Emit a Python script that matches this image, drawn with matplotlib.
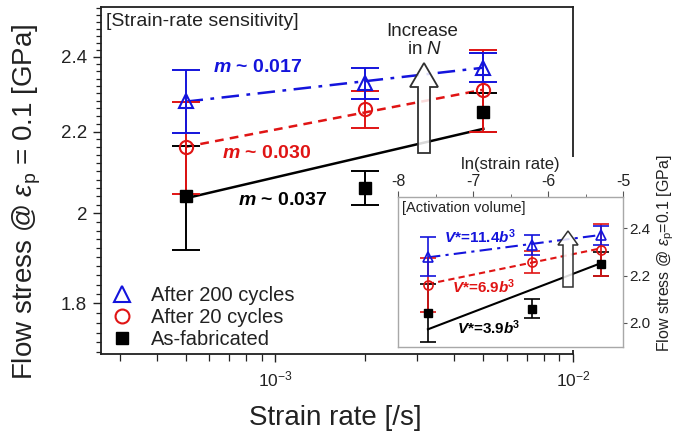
import numpy as np
import matplotlib
matplotlib.use('Agg')
import matplotlib.pyplot as plt
from matplotlib.ticker import FixedLocator, FixedFormatter, NullFormatter, LogLocator, LogFormatterMathtext
from matplotlib.patches import FancyArrow, Rectangle
from matplotlib.lines import Line2D

# ---------------- data ----------------
strain_rate = [5e-4, 2e-3, 5e-3]
stress_asfab = [2.040, 2.060, 2.250]
err_asfab = [0.123, 0.040, 0.050]
stress_n20 = [2.161, 2.258, 2.310]
err_n20 = [0.115, 0.048, 0.110]
stress_n200 = [2.280, 2.328, 2.370]
err_n200 = [0.084, 0.042, 0.040]

fit_rate = [5e-4, 5e-3]
fit_asfab = [2.035, 2.207]
fit_n20 = [2.161, 2.310]
fit_n200 = [2.278, 2.370]

inset_fit_asfab = [1.972, 2.252]
inset_fit_n20 = [2.164, 2.315]
inset_fit_n200 = [2.277, 2.372]

series_names = ['After 200 cycles', 'After 20 cycles', 'As-fabricated']
m_values = ['0.017', '0.030', '0.037']
v_values = ['11.4', '6.9', '3.9']

main_yticks = [1.8, 2.0, 2.2, 2.4]
main_yticklabels = ['1.8', '2', '2.2', '2.4']
inset_xticks = [-8, -7, -6, -5]
inset_yticks = [2.0, 2.2, 2.4]

# ---------------- style ----------------
plt.rcParams['font.family'] = ['Liberation Sans', 'DejaVu Sans']
plt.rcParams['mathtext.fontset'] = 'custom'
plt.rcParams['mathtext.rm'] = 'Liberation Sans'
plt.rcParams['mathtext.it'] = 'Liberation Sans:italic'
plt.rcParams['mathtext.bf'] = 'Liberation Sans:bold'
plt.rcParams['mathtext.bfit'] = 'Liberation Sans:italic:bold'
plt.rcParams['axes.unicode_minus'] = False

BLUE = '#1414dc'
RED = '#e01414'
BLACK = '#000000'
TXT = '#222222'

W, H = 686, 437
fig = plt.figure(figsize=(W / 100, H / 100), dpi=100)

def fx(px):
    return px / W

def fy(py):
    return 1 - py / H

# main axes
L, T, R, B = 101, 7, 573, 354
ax = fig.add_axes([fx(L), fy(B), (R - L) / W, (B - T) / H])
ax.set_xscale('log')
ax.set_yscale('log')
ax.set_xlim(2.6e-4, 1e-2)
ax.set_ylim(1.697, 2.544)

ax.yaxis.set_major_locator(FixedLocator(main_yticks))
ax.yaxis.set_major_formatter(FixedFormatter(main_yticklabels))
ax.yaxis.set_minor_locator(FixedLocator(np.arange(1.70, 2.545, 0.02)))
ax.yaxis.set_minor_formatter(NullFormatter())
ax.xaxis.set_major_locator(LogLocator(base=10))
ax.xaxis.set_major_formatter(LogFormatterMathtext())
ax.xaxis.set_minor_locator(LogLocator(base=10, subs=np.arange(2, 10)))
ax.xaxis.set_minor_formatter(NullFormatter())
ax.tick_params(axis='both', which='both', direction='out', top=False, right=False, colors=TXT)
ax.tick_params(axis='y', which='major', length=6, width=1.0, labelsize=13.5, pad=4)
ax.tick_params(axis='y', which='minor', length=3.5, width=0.9)
ax.tick_params(axis='x', which='major', length=6, width=1.0, labelsize=12.5, pad=5)
ax.tick_params(axis='x', which='minor', length=5, width=0.9)
for s in ax.spines.values():
    s.set_linewidth(1.3)
    s.set_color('#202020')

# error bars
eb_kw = dict(fmt='none', capsize=10, elinewidth=1.4, capthick=1.4)
ax.errorbar(strain_rate, stress_asfab, yerr=err_asfab, ecolor=BLACK, zorder=3, **eb_kw)
ax.errorbar(strain_rate, stress_n20, yerr=err_n20, ecolor=RED, zorder=3.1, **eb_kw)
ax.errorbar(strain_rate, stress_n200, yerr=err_n200, ecolor=BLUE, zorder=3.2, **eb_kw)

# fit lines
ax.plot(fit_rate, fit_asfab, color=BLACK, lw=1.8, ls='-', zorder=2.5)
ax.plot(fit_rate, fit_n20, color=RED, lw=1.8, ls=(0, (3.5, 2.5)), zorder=2.5)
ax.plot(fit_rate, fit_n200, color=BLUE, lw=1.8, ls=(0, (7, 3, 1.5, 3)), zorder=2.5)

# markers
ax.plot(strain_rate, stress_asfab, ls='none', marker='s', ms=8, mfc=BLACK, mec=BLACK, zorder=4)
ax.plot(strain_rate, stress_n20, ls='none', marker='o', ms=9.5, mfc='none', mec=RED, mew=1.5, zorder=4)
ax.plot(strain_rate, stress_n200, ls='none', marker='^', ms=10.5, mfc='none', mec=BLUE, mew=1.5, zorder=4)

def axf(px, py):
    return ((px - L) / (R - L), (B - py) / (B - T))

ax.text(*axf(106, 22), '[Strain-rate sensitivity]', transform=ax.transAxes, fontsize=14,
        ha='left', va='center', color=TXT)
ax.text(*axf(213, 68), r'$\mathbfit{m}$ ~ ' + m_values[0], transform=ax.transAxes, fontsize=14,
        fontweight='bold', color=BLUE, ha='left', va='center')
ax.text(*axf(222, 153), r'$\mathbfit{m}$ ~ ' + m_values[1], transform=ax.transAxes, fontsize=14,
        fontweight='bold', color=RED, ha='left', va='center')
ax.text(*axf(238, 201), r'$\mathbfit{m}$ ~ ' + m_values[2], transform=ax.transAxes, fontsize=14,
        fontweight='bold', color=BLACK, ha='left', va='center')

# arrow main
x0, y0 = axf(424, 153)
_, y1 = axf(424, 63)
ax.add_patch(FancyArrow(x0, y0, 0, y1 - y0, width=12 / (R - L), head_width=28 / (R - L),
                        head_length=24 / (B - T), length_includes_head=True,
                        transform=ax.transAxes, fc=(1, 1, 1, 0.85), ec='#303030', lw=1.3, zorder=5))
ax.text(*axf(422, 32), 'Increase', transform=ax.transAxes, fontsize=13.5, ha='center', va='center', color=TXT)
ax.text(*axf(425, 50), r'in $N$', transform=ax.transAxes, fontsize=13.5, ha='center', va='center', color=TXT)

# legend
handles = [
    Line2D([], [], ls='none', marker='^', ms=11, mfc='none', mec=BLUE, mew=1.5),
    Line2D([], [], ls='none', marker='o', ms=10, mfc='none', mec=RED, mew=1.5),
    Line2D([], [], ls='none', marker='s', ms=9, mfc=BLACK, mec=BLACK),
]
leg = ax.legend(handles, series_names, loc='lower left', bbox_to_anchor=axf(112, 349),
                frameon=False, fontsize=14.5, handlelength=1.0, handletextpad=0.95,
                labelspacing=0.15, borderpad=0, borderaxespad=0, numpoints=1)
for t in leg.get_texts():
    t.set_color(TXT)

# white backdrop for inset
ax.add_patch(Rectangle((fx(390), fy(350)), fx(686) - fx(390), fy(157) - fy(350),
                       transform=fig.transFigure, fc='white', ec='none', zorder=10, clip_on=False))

# ---------------- inset ----------------
iL, iT, iR, iB = 398, 197, 623, 347
axi = fig.add_axes([fx(iL), fy(iB), (iR - iL) / W, (iB - iT) / H])
axi.set_zorder(5)
axi.set_xlim(-8, -5)
axi.set_ylim(1.897, 2.533)
ln_rate = np.log(strain_rate)
ln_fit = np.log(fit_rate)

ieb = dict(fmt='none', capsize=5.5, elinewidth=1.2, capthick=1.2)
axi.errorbar(ln_rate, stress_asfab, yerr=err_asfab, ecolor=BLACK, zorder=3, **ieb)
axi.errorbar(ln_rate, stress_n20, yerr=err_n20, ecolor=RED, zorder=3.1, **ieb)
axi.errorbar(ln_rate, stress_n200, yerr=err_n200, ecolor=BLUE, zorder=3.2, **ieb)
axi.plot(ln_fit, inset_fit_asfab, color=BLACK, lw=1.5, zorder=2.5)
axi.plot(ln_fit, inset_fit_n20, color=RED, lw=1.5, ls=(0, (3, 2)), zorder=2.5)
axi.plot(ln_fit, inset_fit_n200, color=BLUE, lw=1.5, ls=(0, (6, 2.5, 1.5, 2.5)), zorder=2.5)
axi.plot(ln_rate, stress_asfab, ls='none', marker='s', ms=5.5, mfc=BLACK, mec=BLACK, zorder=4)
axi.plot(ln_rate, stress_n20, ls='none', marker='o', ms=6.5, mfc='none', mec=RED, mew=1.2, zorder=4)
axi.plot(ln_rate, stress_n200, ls='none', marker='^', ms=7, mfc='none', mec=BLUE, mew=1.2, zorder=4)

axi.xaxis.tick_top()
axi.xaxis.set_label_position('top')
axi.yaxis.tick_right()
axi.set_xticks(inset_xticks)
axi.set_xticks(np.arange(-8, -4.9, 0.5), minor=True)
axi.set_yticks(inset_yticks)
axi.set_yticklabels(['%.1f' % v for v in inset_yticks])
axi.tick_params(axis='both', which='both', direction='out', colors='#555555', labelcolor=TXT)
axi.tick_params(axis='x', which='major', length=4, labelsize=11.5, pad=2)
axi.tick_params(axis='x', which='minor', length=2.5)
axi.tick_params(axis='y', which='major', length=3, labelsize=11, pad=1.5)
axi.set_xlabel('ln(strain rate)', fontsize=12, color=TXT, labelpad=3)
for s in axi.spines.values():
    s.set_color('#a8a8a8')
    s.set_linewidth(1.0)

def iaf(px, py):
    return ((px - iL) / (iR - iL), (iB - py) / (iB - iT))

axi.text(*iaf(402, 208), '[Activation volume]', transform=axi.transAxes, fontsize=10.5,
         ha='left', va='center', color=TXT)
axi.text(*iaf(444, 237), r'$\mathbfit{V}$*=' + v_values[0] + r'$\mathbfit{b}^{\mathbf{3}}$',
         transform=axi.transAxes, fontsize=11, fontweight='bold', color=BLUE, ha='left', va='center')
axi.text(*iaf(452, 287), r'$\mathbfit{V}$*=' + v_values[1] + r'$\mathbfit{b}^{\mathbf{3}}$',
         transform=axi.transAxes, fontsize=11, fontweight='bold', color=RED, ha='left', va='center')
axi.text(*iaf(457, 328), r'$\mathbfit{V}$*=' + v_values[2] + r'$\mathbfit{b}^{\mathbf{3}}$',
         transform=axi.transAxes, fontsize=11, fontweight='bold', color=BLACK, ha='left', va='center')

ix0, iy0 = iaf(568, 287)
_, iy1 = iaf(568, 231)
axi.add_patch(FancyArrow(ix0, iy0, 0, iy1 - iy0, width=10 / (iR - iL), head_width=20 / (iR - iL),
                         head_length=14 / (iB - iT), length_includes_head=True,
                         transform=axi.transAxes, fc=(1, 1, 1, 0.85), ec='#303030', lw=1.1, zorder=5))

# axis labels
fig.text(fx(27), fy(202), r'Flow stress @ $\varepsilon_\mathregular{p}$ = 0.1 [GPa]', rotation=90,
         ha='center', va='center', fontsize=20, color=TXT)
fig.text(fx(335), fy(418), 'Strain rate [/s]', ha='center', va='center', fontsize=20, color=TXT)
fig.text(fx(666), fy(253), r'Flow stress @ $\varepsilon_\mathregular{p}$=0.1 [GPa]', rotation=90,
         ha='center', va='center', fontsize=11.5, color=TXT)

fig.savefig('out.png', dpi=100)
